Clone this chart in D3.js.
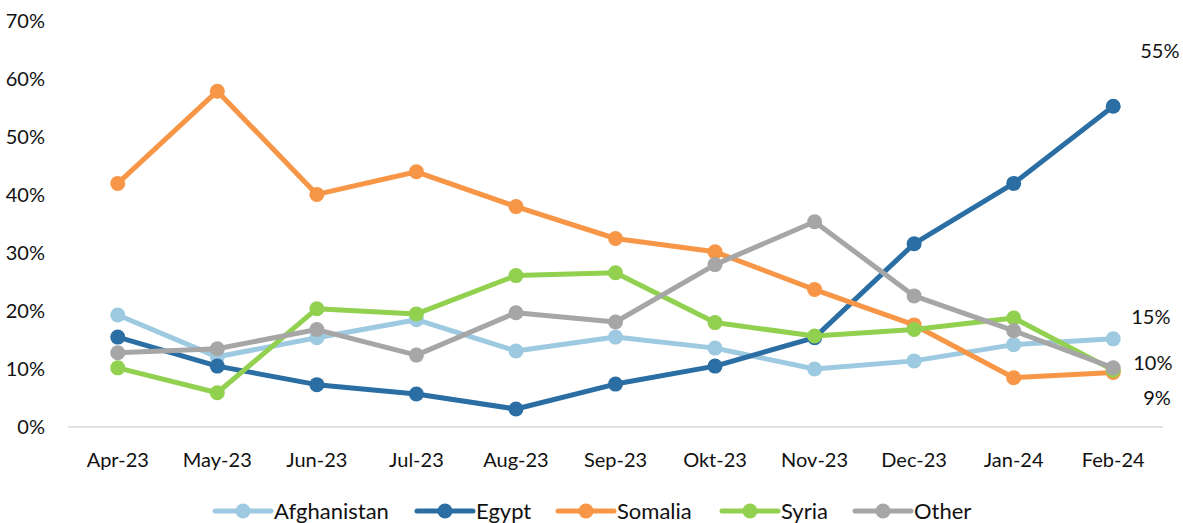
<!DOCTYPE html>
<html>
<head>
<meta charset="utf-8">
<script src="https://cdn.jsdelivr.net/npm/d3@7"></script>
<style>
  body { margin: 0; background: #fff; }
  text { font-family: Lato, "Open Sans", sans-serif; fill: #111; }
</style>
</head>
<body>
<svg id="chart" width="1183" height="523"></svg>
<script>
const months = ["Apr-23", "May-23", "Jun-23", "Jul-23", "Aug-23", "Sep-23", "Okt-23", "Nov-23", "Dec-23", "Jan-24", "Feb-24"];
const yTicks = [0, 10, 20, 30, 40, 50, 60, 70];

const afghanistan = [19.3, 12.1, 15.4, 18.5, 13.1, 15.5, 13.6, 10.0, 11.4, 14.2, 15.2];
const egypt       = [15.5, 10.5, 7.3, 5.7, 3.1, 7.4, 10.5, 15.4, 31.6, 42.0, 55.3];
const somalia     = [42.0, 57.9, 40.1, 44.0, 38.0, 32.5, 30.2, 23.7, 17.6, 8.5, 9.4];
const syria       = [10.2, 5.9, 20.4, 19.5, 26.1, 26.6, 18.0, 15.7, 16.8, 18.8, 9.8];
const other       = [12.8, 13.5, 16.8, 12.4, 19.7, 18.1, 28.0, 35.4, 22.6, 16.6, 10.2];

const seriesNames = ["Afghanistan", "Egypt", "Somalia", "Syria", "Other"];
const seriesValues = [afghanistan, egypt, somalia, syria, other];
const colors = ["#9ecae1", "#2a6ea3", "#f79646", "#92d050", "#a6a6a6"];

// end labels: which series get one, and where it sits relative to the last point
const labelled = [
  { s: 1, dx: 27, dy: -55 },
  { s: 0, dx: 18, dy: -22 },
  { s: 4, dx: 20, dy: -5 },
  { s: 2, dx: 30, dy: 26 }
];

const svg = d3.select("#chart");

const x = d3.scaleBand().domain(months).range([68, 1163]);
const y = d3.scaleLinear().domain([0, 70]).range([427, 21]);
const cx = m => x(m) + x.bandwidth() / 2;

// y axis labels
svg.append("g").selectAll("text")
  .data(yTicks)
  .enter().append("text")
  .attr("x", 45)
  .attr("y", d => y(d))
  .attr("dy", "0.35em")
  .attr("text-anchor", "end")
  .style("font-size", "20px")
  .text(d => d + "%");

// baseline
svg.append("line")
  .attr("x1", 68).attr("x2", 1163)
  .attr("y1", y(0)).attr("y2", y(0))
  .attr("stroke", "#d9d9d9").attr("stroke-width", 1.5);

// x labels
svg.append("g").selectAll("text")
  .data(months)
  .enter().append("text")
  .attr("x", d => cx(d))
  .attr("y", 460)
  .attr("dy", "0.35em")
  .attr("text-anchor", "middle")
  .style("font-size", "20px")
  .text(d => d);

const line = d3.line().x((d, i) => cx(months[i])).y(d => y(d));

seriesValues.forEach((vals, k) => {
  const g = svg.append("g");
  g.append("path")
    .datum(vals)
    .attr("d", line)
    .attr("fill", "none")
    .attr("stroke", colors[k])
    .attr("stroke-width", 5)
    .attr("stroke-linejoin", "round");
  g.selectAll("circle")
    .data(vals)
    .enter().append("circle")
    .attr("cx", (d, i) => cx(months[i]))
    .attr("cy", d => y(d))
    .attr("r", 7.5)
    .attr("fill", colors[k]);
});

// end value labels
const last = months.length - 1;
svg.append("g").selectAll("text")
  .data(labelled)
  .enter().append("text")
  .attr("x", d => cx(months[last]) + d.dx)
  .attr("y", d => y(seriesValues[d.s][last]) + d.dy)
  .attr("dy", "0.35em")
  .attr("text-anchor", "start")
  .style("font-size", "20px")
  .text(d => Math.round(seriesValues[d.s][last]) + "%");

// legend
const legendX = [215, 417, 558, 722, 855];
const legend = svg.append("g").selectAll("g")
  .data(seriesNames)
  .enter().append("g")
  .attr("transform", (d, i) => `translate(${legendX[i]},511)`);
legend.append("line")
  .attr("x1", 0).attr("x2", 56)
  .attr("stroke", (d, i) => colors[i])
  .attr("stroke-width", 5)
  .attr("stroke-linecap", "round");
legend.append("circle")
  .attr("cx", 28).attr("r", 7.5)
  .attr("fill", (d, i) => colors[i]);
legend.append("text")
  .attr("x", 59)
  .attr("dy", "0.35em")
  .style("font-size", "22px")
  .text(d => d);
</script>
</body>
</html>
